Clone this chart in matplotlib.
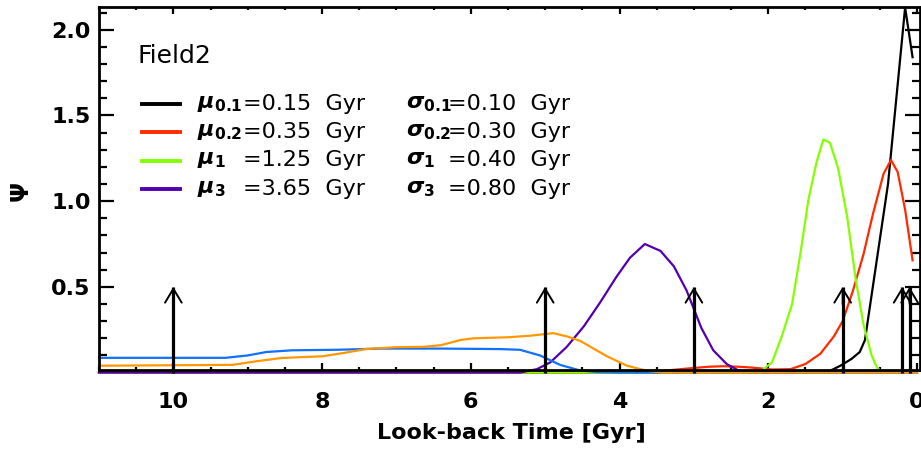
import matplotlib
matplotlib.use("Agg")
import matplotlib.pyplot as plt
from matplotlib.ticker import MultipleLocator, FixedLocator

# Star-formation history components: look-back time [Gyr] vs Psi
black_t = [11.0, 1.50, 1.35, 1.17, 1.03, 0.88, 0.77, 0.70, 0.39, 0.16, 0.06]
black_v = [0.0, 0.0, 0.003, 0.01, 0.04, 0.08, 0.12, 0.19, 1.10, 2.13, 1.84]

red_t = [11.0, 3.60, 3.30, 3.00, 2.80, 2.60, 2.40, 2.25, 1.95, 1.70, 1.50, 1.30,
         1.12, 1.00, 0.86, 0.72, 0.59, 0.45, 0.35, 0.26, 0.16, 0.06]
red_v = [0.0, 0.0, 0.015, 0.027, 0.034, 0.037, 0.034, 0.030, 0.018, 0.020, 0.05,
         0.11, 0.21, 0.30, 0.48, 0.69, 0.93, 1.16, 1.24, 1.17, 0.95, 0.655]

green_t = [11.0, 2.20, 2.09, 1.95, 1.82, 1.68, 1.57, 1.46, 1.35, 1.26, 1.17,
           1.06, 0.94, 0.83, 0.72, 0.61, 0.54, 0.47]
green_v = [0.0, 0.0, 0.01, 0.06, 0.21, 0.40, 0.69, 1.01, 1.23, 1.36, 1.34,
           1.19, 0.91, 0.56, 0.28, 0.10, 0.03, 0.0]

purple_t = [11.0, 5.34, 5.11, 4.93, 4.71, 4.48, 4.26, 4.04, 3.86, 3.66, 3.45,
            3.27, 3.10, 2.90, 2.74, 2.56, 2.40, 2.20, 0.0]
purple_v = [0.0, 0.0, 0.02, 0.06, 0.15, 0.27, 0.41, 0.56, 0.67, 0.75, 0.71,
            0.62, 0.48, 0.26, 0.13, 0.05, 0.012, 0.0, 0.0]

blue_t = [11.0, 9.30, 9.00, 8.75, 8.40, 7.80, 7.20, 6.40, 5.60, 5.34, 5.07,
          4.80, 4.53, 4.30, 4.00, 0.0]
blue_v = [0.086, 0.086, 0.10, 0.12, 0.13, 0.133, 0.14, 0.14, 0.137, 0.133, 0.10,
          0.045, 0.012, 0.003, 0.0, 0.0]

orange_t = [11.0, 9.20, 8.90, 8.55, 8.00, 7.70, 7.40, 7.00, 6.64, 6.40, 6.14,
            5.96, 5.50, 5.20, 4.89, 4.70, 4.53, 4.35, 4.17, 3.90, 3.63, 3.40, 0.0]
orange_v = [0.04, 0.045, 0.065, 0.085, 0.095, 0.115, 0.138, 0.148, 0.150, 0.16,
            0.19, 0.20, 0.206, 0.215, 0.23, 0.21, 0.185, 0.14, 0.095, 0.04, 0.01,
            0.0, 0.0]

arrow_t = [10.0, 5.0, 3.0, 1.0, 0.2, 0.1]
arrow_top = 0.5

legend_mu = [r"$\boldsymbol{\mu}_{\mathbf{0.1}}$", r"$\boldsymbol{\mu}_{\mathbf{0.2}}$",
             r"$\boldsymbol{\mu}_{\mathbf{1}}$", r"$\boldsymbol{\mu}_{\mathbf{3}}$"]
legend_mu_val = ["=0.15  Gyr", "=0.35  Gyr", "=1.25  Gyr", "=3.65  Gyr"]
legend_sig = [r"$\boldsymbol{\sigma}_{\mathbf{0.1}}$", r"$\boldsymbol{\sigma}_{\mathbf{0.2}}$",
              r"$\boldsymbol{\sigma}_{\mathbf{1}}$", r"$\boldsymbol{\sigma}_{\mathbf{3}}$"]
legend_sig_val = ["=0.10  Gyr", "=0.30  Gyr", "=0.40  Gyr", "=0.80  Gyr"]

col_black = "#000000"
col_red = "#ff2a00"
col_green = "#84ff00"
col_purple = "#5200b0"
col_blue = "#1070ff"
col_orange = "#ff9800"

W, H = 921, 450
fig = plt.figure(figsize=(W / 100, H / 100), dpi=100)
plt.rcParams["mathtext.fontset"] = "dejavusans"

L, R, T, B = 99, 920, 7, 370
ax = fig.add_axes([L / W, 1 - B / H, (R - L) / W, (B - T) / H])
ax.set_xlim(11.0, -0.04)
ax.set_ylim(0.015, 2.133)

lw = 1.6
series = [(black_t, black_v, col_black), (red_t, red_v, col_red),
          (green_t, green_v, col_green), (purple_t, purple_v, col_purple),
          (blue_t, blue_v, col_blue), (orange_t, orange_v, col_orange)]
for t, v, c in series:
    ax.plot(t, v, color=c, lw=lw, clip_on=False, solid_joinstyle="round")

for t in arrow_t:
    ax.plot([t, t], [0.0, arrow_top], color="black", lw=2.3, clip_on=False,
            solid_capstyle="butt")
    ax.annotate("", xy=(t, arrow_top), xytext=(t, arrow_top - 0.1),
                arrowprops=dict(arrowstyle="->,head_length=0.5,head_width=0.3",
                                lw=1.4, color="black", mutation_scale=20,
                                shrinkA=0, shrinkB=0),
                annotation_clip=False)

# axes styling
for s in ax.spines.values():
    s.set_linewidth(2.0)
ax.xaxis.set_major_locator(FixedLocator([0, 2, 4, 6, 8, 10]))
ax.xaxis.set_minor_locator(MultipleLocator(0.5))
ax.yaxis.set_major_locator(FixedLocator([0.5, 1.0, 1.5, 2.0]))
ax.yaxis.set_minor_locator(MultipleLocator(0.1))
ax.tick_params(axis="both", which="both", direction="in", top=True, right=True,
               width=1.6)
ax.tick_params(axis="x", which="major", length=5, pad=16)
ax.tick_params(axis="x", which="minor", length=2.5)
ax.tick_params(axis="y", which="major", length=11, pad=6)
ax.tick_params(axis="y", which="minor", length=5.5)
ax.set_xticklabels(["0", "2", "4", "6", "8", "10"], fontsize=16, fontweight="bold")
ax.set_yticklabels(["0.5", "1.0", "1.5", "2.0"], fontsize=16, fontweight="bold")

fig.text(511 / W, 1 - 433 / H, "Look-back Time [Gyr]", ha="center", va="center",
         fontsize=16, fontweight="bold")
fig.text(21 / W, 1 - 191 / H, "Ψ", ha="center", va="center", rotation=90,
         fontsize=17, fontweight="bold")

fig.text(137 / W, 1 - 56 / H, "Field2", ha="left", va="center", fontsize=18)

row_y = [104, 132, 160.5, 189]
row_col = [col_black, col_red, col_green, col_purple]
for i, y in enumerate(row_y):
    fy = 1 - y / H
    fig.add_artist(plt.Line2D([142 / W, 180 / W], [fy, fy], color=row_col[i],
                              lw=2.8, transform=fig.transFigure))
    fig.text(197 / W, fy, legend_mu[i], ha="left", va="center", fontsize=16)
    fig.text(243 / W, fy, legend_mu_val[i], ha="left", va="center", fontsize=16)
    fig.text(406 / W, fy, legend_sig[i], ha="left", va="center", fontsize=16)
    fig.text(448 / W, fy, legend_sig_val[i], ha="left", va="center", fontsize=16)

fig.savefig("out.png", dpi=100)
